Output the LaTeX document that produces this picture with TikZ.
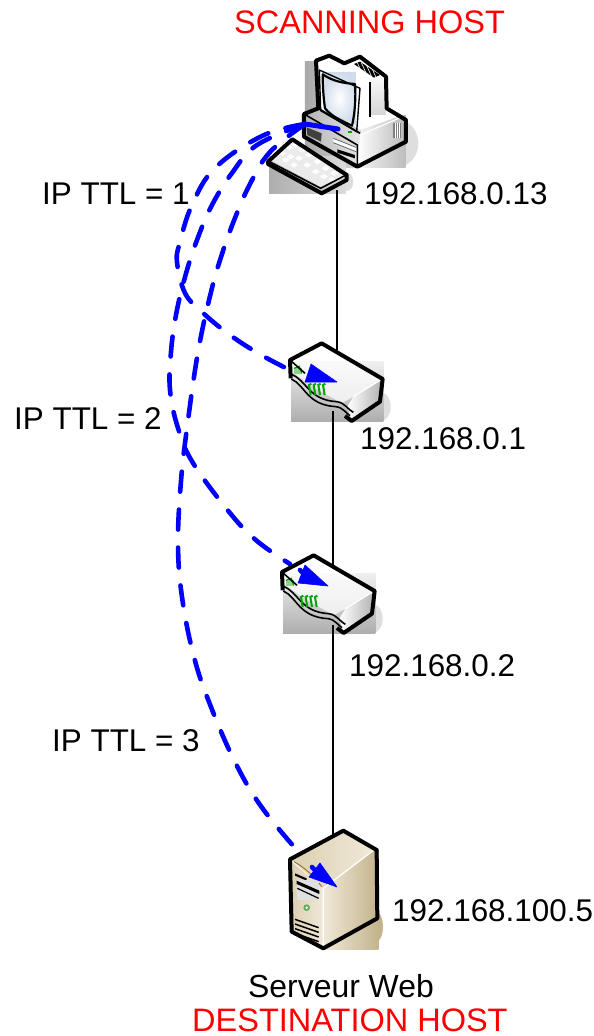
\documentclass[tikz,border=0pt]{standalone}
\usepackage{fontspec}
\setmainfont{Liberation Sans}
\usetikzlibrary{shapes.geometric}
\definecolor{ttlblue}{RGB}{0,0,255}
\definecolor{keygreen}{RGB}{0,165,0}
\definecolor{tanlight}{RGB}{240,233,216}
\definecolor{tanmid}{RGB}{220,208,178}
\definecolor{tandark}{RGB}{196,180,142}
\definecolor{screenblue}{RGB}{208,219,236}
\tikzset{
  lbl/.style={inner sep=0pt,anchor=base west,font=\fontsize{31.4}{36}\selectfont},
  hostlbl/.style={inner sep=0pt,anchor=base west,text=red,font=\fontsize{32.5}{36}\selectfont},
  link/.style={draw=black,line width=1.6pt},
  probe/.style={draw=ttlblue,line width=4.6pt,line cap=round,dash pattern=on 20pt off 18pt},
  tip/.style={fill=ttlblue,draw=ttlblue,line width=.6pt,line join=round},
  nub/.style={draw=ttlblue,line width=4.6pt,line cap=round},
  icon/.style={draw=black,line width=4pt,line join=round},
  thin icon/.style={draw=black,line width=1.6pt,line join=round},
  zoomed/.style={x=0.3333pt,y=-0.3333pt},
  router icon/.pic={
    \begin{scope}[zoomed]
      \fill[black!13] (335,215) ellipse (27 and 42);
      \shade[top color=black!6,bottom color=black!32] (63,80) rectangle (340,260);
      \fill[white,opacity=.72] (62,78) -- (155,27) -- (335,132) -- (250,185) -- (215,205) -- (120,150) -- (62,105) -- cycle;
      \shade[left color=white,right color=black!30] (250,185) -- (335,135) -- (330,200) -- (245,258) -- (232,215) -- cycle;
      \draw[draw=white,line width=1.2pt] (250,185) -- (332,135);
      \draw[thin icon] (64,118) .. controls (110,135) and (115,195) .. (200,200) .. controls (225,203) and (235,225) .. (250,232);
      \draw[thin icon] (64,132) .. controls (105,150) and (110,210) .. (198,215) .. controls (220,218) and (228,235) .. (240,242);
      \fill[keygreen!45] (72,98) rectangle (95,118);
      \draw[keygreen,line width=1.2pt] (72,100) -- (88,94) -- (95,115);
      \foreach \gx in {122,136,150,164} {
        \draw[keygreen,line width=2pt] (\gx,180) -- (\gx-5,150) -- (\gx+2,146);
      }
      \draw[icon] (225,243) -- (245,258) -- (330,200) -- (338,132) -- (155,25) -- (60,75) -- (62,130);
      \draw[thin icon] (60,75) -- (105,115);
    \end{scope}
  }
}
\begin{document}
\begin{tikzpicture}[x=1pt,y=-1pt]
\useasboundingbox (0,0) rectangle (594,1036);

% named anchors of the devices
\coordinate (pcbottom) at (337,190);
\coordinate (routeronetop) at (337,350);
\coordinate (routeronebottom) at (333,411);
\coordinate (routertwotop) at (333,565);
\coordinate (routertwobottom) at (333,625);
\coordinate (servertop) at (333,835);
\coordinate (pcport) at (305,124);

% scanning host
\begin{scope}[shift={(250,40)},zoomed]
  \fill[black!13] (440,310) ellipse (65 and 72);
  \fill[black!13] (290,425) ellipse (20 and 28);
  \shade[left color=black!34,right color=black!16] (165,65) rectangle (335,383);
  \shade[left color=black!6,right color=black!26] (335,228) rectangle (467,383);
  \shade[left color=black!32,right color=black!14] (57,350) rectangle (288,462);
  \fill[white] (198,62) -- (238,47) -- (283,70) -- (330,50) -- (408,110) -- (410,205) -- (330,230) -- (230,230) -- (205,205) -- cycle;
  \shade[left color=black!30,right color=black!10] (162,222) -- (205,205) -- (330,280) -- (322,380) -- (162,290) -- cycle;
  \shade[left color=white,right color=black!28] (330,285) -- (468,225) -- (468,305) -- (322,380) -- cycle;
  \fill[white] (235,205) -- (330,270) -- (460,225) -- (410,205) -- (320,225) -- cycle;
  \shade[top color=black!4,bottom color=black!16] (360,120) rectangle (408,225);
  \shade[inner color=white,outer color=screenblue] (218,96) -- (318,96) -- (318,255) -- (225,212) -- cycle;
  \draw[icon,line width=2.2pt] (218,103) .. controls (250,125) and (285,130) .. (315,132) .. controls (318,170) and (315,220) .. (306,257) .. controls (280,245) and (245,230) .. (225,205) .. controls (220,170) and (218,135) .. cycle;
  \draw[icon,line width=1.4pt] (208,90) -- (330,145) -- (320,275) -- (212,212) -- cycle;
  \fill[black] (312,72) -- (330,65) -- (390,105) -- (372,113) -- cycle;
  \foreach \sx in {322,334,346,358} { \draw[white,line width=.6pt] (\sx,68) -- (\sx+20,112); }
  \draw[thin icon] (360,125) -- (360,230);
  \fill[black!50] (430,250) rectangle (453,295);
  \foreach \sx in {435,441,447} { \draw[white,line width=.6pt] (\sx,250) -- (\sx,295); }
  \fill[black!75] (170,262) -- (215,280) -- (213,305) -- (172,285) -- cycle;
  \fill[white] (250,295) -- (318,322) -- (318,335) -- (250,308) -- cycle;
  \draw[black!60,line width=.8pt] (250,295) -- (318,322) (250,308) -- (318,335);
  \fill[black] (262,328) -- (315,345) -- (315,355) -- (262,338) -- cycle;
  \fill[keygreen] (295,272) rectangle (306,278);
  \draw[draw=white,line width=1.2pt] (330,285) -- (458,230);
  \draw[icon] (198,62) -- (238,47) -- (283,70) -- (330,50) -- (408,110) -- (410,205) -- (468,240) -- (468,305) -- (322,380) -- (162,290) -- (162,222) -- (205,205) -- cycle;
  \draw[thin icon] (162,222) -- (322,315) -- (322,380);
  \draw[thin icon] (205,205) -- (330,280);
  % keyboard
  \fill[black!8] (60,360) -- (127,298) -- (285,405) -- (212,440) -- cycle;
  \foreach \kx/\ky in {85/340,105/322,125/315,145/330,165/345,190/365,215/385,240/400,110/350,135/355,160/375,185/395,210/410,235/418,95/360,120/375}
    { \fill[white] (\kx,\ky) -- (\kx+12,\ky-8) -- (\kx+24,\ky) -- (\kx+12,\ky+8) -- cycle; }
  \draw[icon] (54,365) -- (127,298) -- (290,405) -- (290,420) -- (215,460) -- (54,372) -- cycle;
  \draw[thin icon] (58,365) -- (212,445) -- (288,405);
\end{scope}

% routers
\pic at (270,335) {router icon};
\pic at (262,547) {router icon};

% destination host
\begin{scope}[shift={(270,820)},zoomed]
  \fill[tandark] (315,320) ellipse (24 and 48);
  \shade[left color=tanlight,right color=tandark] (160,85) rectangle (325,390);
  \shade[left color=tanmid,right color=tanlight] (65,125) -- (160,205) -- (160,380) -- (65,335) -- cycle;
  \shade[left color=tanmid,right color=tanlight] (65,120) -- (220,35) -- (312,90) -- (160,205) -- cycle;
  \shade[left color=tanlight,right color=tandark] (160,205) -- (312,90) -- (320,295) -- (160,383) -- cycle;
  \draw[white,line width=1.2pt] (160,205) -- (312,90) (160,205) -- (160,380);
  \draw[brown!80!black,line width=.8pt] (72,125) .. controls (100,140) and (130,165) .. (155,200);
  \fill[black] (75,160) -- (110,175) -- (110,182) -- (75,167) -- cycle;
  \fill[black!12] (80,180) rectangle (148,240);
  \fill[black] (80,182) -- (148,212) -- (148,222) -- (80,192) -- cycle;
  \draw[black,line width=1.2pt] (82,205) -- (146,235);
  \fill[black!55!green!60!white] (110,263) circle (10);
  \fill[white] (110,263) circle (4);
  \foreach \vy in {298,312,326,340} { \draw[black,line width=1.5pt] (75,\vy) -- (146,\vy+25); }
  \draw[icon] (60,118) -- (220,32) -- (320,90) -- (322,295) -- (160,385) -- (65,335) -- cycle;
\end{scope}

% connectors
\draw[link] (pcbottom) -- (routeronetop);
\draw[link] (routeronebottom) -- (routertwotop);
\draw[link] (routertwobottom) -- (servertop);

% probes
\draw[probe] plot[smooth,tension=0.65] coordinates {(pcport) (262,136) (215,168) (192,205) (180,242) (177,262) (185,293) (202,312) (230,335) (263,356) (300,375)};
\draw[probe] plot[smooth,tension=0.65] coordinates {(pcport) (257,145) (232,173) (212,205) (197,240) (185,277) (176,315) (171,352) (170,390) (178,428) (193,463) (230,513) (257,541) (290,564)};
\draw[probe] plot[smooth,tension=0.65] coordinates {(pcport) (270,152) (250,184) (235,218) (222,254) (211,292) (198,352) (187,428) (181,481) (178,543) (182,597) (194,657) (211,707) (236,764) (263,809) (303,857)};
\draw[draw=ttlblue,line width=5pt,line cap=round] (pcport) -- (338,129);
\fill[tip] (337,382) -- (311,364) -- (305,382) -- cycle;
\fill[tip] (328,586) -- (305,565) -- (298,583) -- cycle;
\draw[nub] (300,570) -- (304,574);
\fill[tip] (337,887) -- (320,863) -- (309,877) -- cycle;
\draw[nub] (312,867) -- (316,871);

% labels
\node[hostlbl] (scan) at (234,33) {SCANNING HOST};
\node[hostlbl] (dest) at (192,1031) {DESTINATION HOST};
\node[lbl] (ttlone) at (42,204) {IP TTL = 1};
\node[lbl] (ttltwo) at (14,429) {IP TTL = 2};
\node[lbl] (ttlthree) at (52,751) {IP TTL = 3};
\node[lbl] (ipa) at (364,204) {192.168.0.13};
\node[lbl] (ipb) at (360,449) {192.168.0.1};
\node[lbl] (ipc) at (349,676) {192.168.0.2};
\node[lbl] (ipd) at (392,921) {192.168.100.5};
\node[lbl,font=\fontsize{31.9}{36}\selectfont] (web) at (248,997) {Serveur Web};
\end{tikzpicture}
\end{document}
